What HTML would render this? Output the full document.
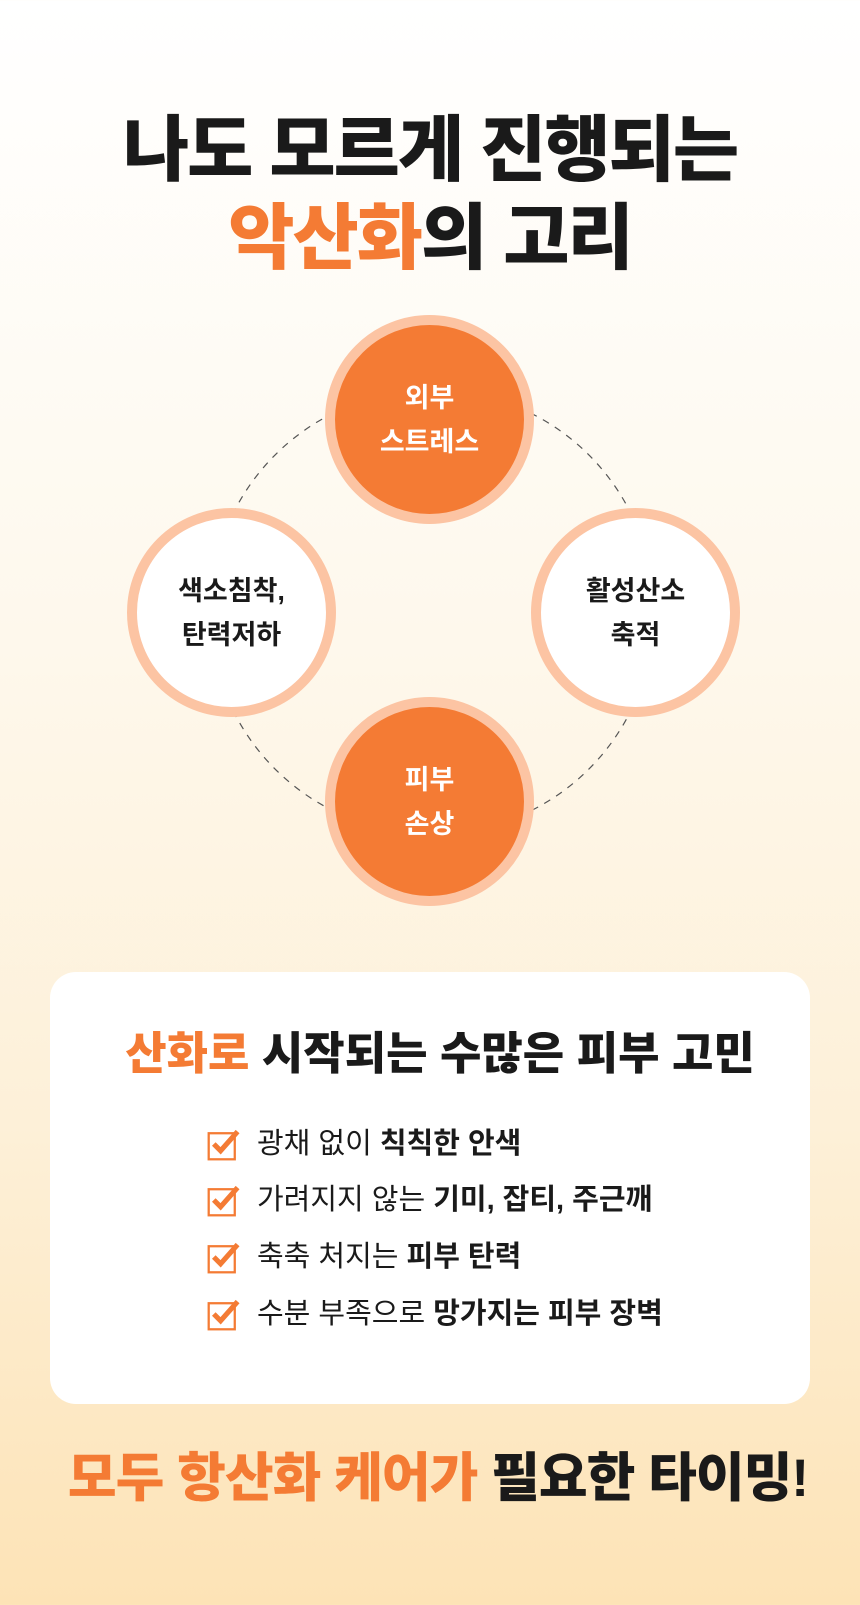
<!DOCTYPE html>
<html><head><meta charset="utf-8"><style>
*{margin:0;padding:0;box-sizing:border-box}
body{width:860px;height:1605px;overflow:hidden;background:linear-gradient(#ffffff 0%,#fef8ec 40%,#fdf0d8 70%,#fde3b6 100%);font-family:"Liberation Sans","Noto Sans CJK KR",sans-serif;position:relative;color:#1a1a1a}
.h{position:absolute;left:0;width:860px;text-align:center;font-weight:900;letter-spacing:-2px}
.o{color:#f47b34}
.c{position:absolute;border-radius:50%;border:10px solid #fcc4a3;display:flex;align-items:center;justify-content:center;text-align:center;font-weight:700;font-size:27px;line-height:44px}
.card{position:absolute;left:50px;top:972px;width:760px;height:432px;background:#fff;border-radius:26px}
.li{position:absolute;left:207px;font-size:29px;height:40px;line-height:40px;display:flex;align-items:center;letter-spacing:0px}
.li svg{margin-right:16px}
</style></head><body>
<div class="h" style="top:108px;font-size:72px;line-height:86px">나도 모르게 진행되는</div>
<div class="h" style="top:196px;font-size:72px;line-height:86px"><span class="o">악산화</span>의 고리</div>
<svg style="position:absolute;left:0;top:0" width="860" height="960"><circle cx="432" cy="612" r="222" fill="none" stroke="#555" stroke-width="1.2" stroke-dasharray="7 7"/></svg>
<div class="c" style="left:325px;top:315px;width:209px;height:209px;background:#f47b34;color:#fff">외부<br>스트레스</div>
<div class="c" style="left:127px;top:508px;width:209px;height:209px;background:#fff">색소침착,<br>탄력저하</div>
<div class="c" style="left:531px;top:508px;width:209px;height:209px;background:#fff">활성산소<br>축적</div>
<div class="c" style="left:325px;top:697px;width:209px;height:209px;background:#f47b34;color:#fff">피부<br>손상</div>
<div class="card"></div>
<div class="h" style="top:1026px;left:10px;font-size:45px;line-height:56px;letter-spacing:0px"><span class="o">산화로</span> 시작되는 수많은 피부 고민</div>
<div class="li" style="top:1124px"><svg width="34" height="34" viewBox="0 0 30 30"><rect x="1.5" y="5.5" width="23" height="23" fill="none" stroke="#f47b34" stroke-width="2"/><path d="M6 15l6 6L27 4" fill="none" stroke="#f47b34" stroke-width="4.5"/></svg>광채 없이&nbsp;<b>칙칙한 안색</b></div>
<div class="li" style="top:1180px"><svg width="34" height="34" viewBox="0 0 30 30"><rect x="1.5" y="5.5" width="23" height="23" fill="none" stroke="#f47b34" stroke-width="2"/><path d="M6 15l6 6L27 4" fill="none" stroke="#f47b34" stroke-width="4.5"/></svg>가려지지 않는&nbsp;<b>기미, 잡티, 주근깨</b></div>
<div class="li" style="top:1237px"><svg width="34" height="34" viewBox="0 0 30 30"><rect x="1.5" y="5.5" width="23" height="23" fill="none" stroke="#f47b34" stroke-width="2"/><path d="M6 15l6 6L27 4" fill="none" stroke="#f47b34" stroke-width="4.5"/></svg>축축 처지는&nbsp;<b>피부 탄력</b></div>
<div class="li" style="top:1294px"><svg width="34" height="34" viewBox="0 0 30 30"><rect x="1.5" y="5.5" width="23" height="23" fill="none" stroke="#f47b34" stroke-width="2"/><path d="M6 15l6 6L27 4" fill="none" stroke="#f47b34" stroke-width="4.5"/></svg>수분 부족으로&nbsp;<b>망가지는 피부 장벽</b></div>
<div class="h" style="top:1448px;left:8px;font-size:53px;line-height:62px;letter-spacing:-1px"><span class="o">모두 항산화 케어가</span> 필요한 타이밍!</div>
</body></html>
